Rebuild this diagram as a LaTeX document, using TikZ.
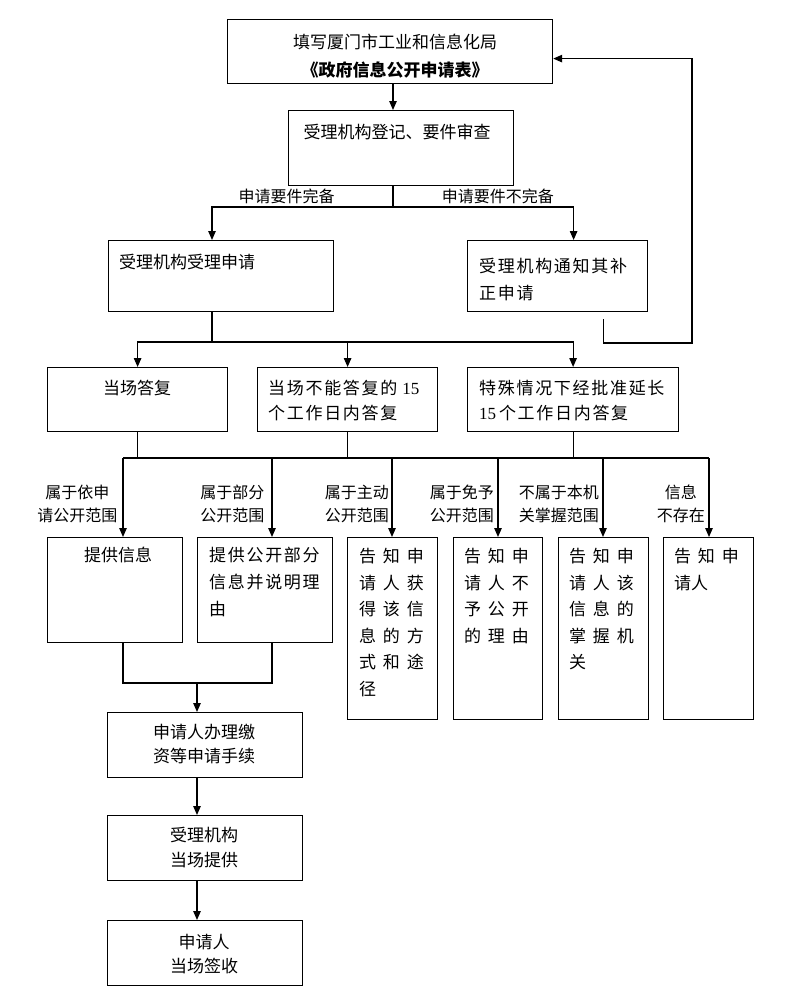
\documentclass[tikz,border=0pt]{standalone}
\usepackage{fontspec}
\setmainfont{Liberation Serif}
\newfontfamily\cjk{Noto Sans CJK SC}
\newfontfamily\cjkwide[LetterSpace=40]{Noto Sans CJK SC}
\newfontfamily\cjkloose[LetterSpace=10]{Noto Sans CJK SC}
\usetikzlibrary{arrows.meta}

\tikzset{
  box/.style 2 args={draw,line width=1.2pt,anchor=north west,inner sep=0pt,
    minimum width=#1pt,minimum height=#2pt},
  txt/.style={inner sep=0pt,align=left,font=\fontsize{17}{#1}\selectfont\cjk},
  txt/.default=27,
  loose/.style={font=\fontsize{17}{#1}\selectfont\cjkloose},
  loose/.default=27,
  wide/.style={font=\fontsize{17}{26.6}\selectfont\cjkwide},
  lab/.style={inner sep=0pt,align=center,font=\fontsize{16}{23}\selectfont\cjk},
  link/.style={line width=1.2pt},
  arr/.style={link,-{Triangle[length=9pt,width=7.5pt]}},
}

\begin{document}
\begin{tikzpicture}[x=1pt,y=-1pt]
  \fill[white] (0,0) rectangle (800,1004);
  \useasboundingbox (0,0) rectangle (800,1004);

  % top of the flow
  \node[box={325}{64}] (b1) at (227,19) {};
  \node[txt=28,align=center,anchor=north] (t1) at (395,34)
    {填写厦门市工业和信息化局\\{\bfseries《政府信息公开申请表》}};
  \node[box={225}{75}] (b2) at (288,110) {};
  \node[txt,anchor=north] (t2) at (397,124) {受理机构登记、要件审查};

  \node[box={225}{71}] (b3a) at (108,240) {};
  \node[txt,anchor=north west] (t3a) at (119,254) {受理机构受理申请};
  \node[box={180}{71}] (b3b) at (467,240) {};
  \node[txt,loose,anchor=north west] (t3b) at (479,258) {受理机构通知其补\\正申请};

  % three ways of answering
  \node[box={180}{64}] (b4a) at (47,367) {};
  \node[txt,anchor=north] (t4a) at (137,380) {当场答复};
  \node[box={180}{64}] (b4b) at (257,367) {};
  \node[txt,loose=25,anchor=north west] (t4b) at (268,380)
    {当场不能答复的\hspace{5pt}{\rmfamily 15}\\个工作日内答复};
  \node[box={211}{64}] (b4c) at (467,367) {};
  \node[txt,loose=25,anchor=north west] (t4c) at (479,380)
    {特殊情况下经批准延长\\{\rmfamily 15}\,个工作日内答复};

  % results
  \node[box={135}{105}] (b6a) at (47,537) {};
  \node[txt,anchor=north] (t6a) at (118,547) {提供信息};
  \node[box={135}{105}] (b6b) at (197,537) {};
  \node[txt,loose,anchor=north west] (t6b) at (209,547) {提供公开部分\\信息并说明理\\由};
  \node[box={90}{182}] (b6c) at (347,537) {};
  \node[txt,wide,anchor=north west] (t6c) at (359,548)
    {告知申\\请人获\\得该信\\息的方\\式和途\\径};
  \node[box={89}{182}] (b6d) at (453,537) {};
  \node[txt,wide,anchor=north west] (t6d) at (464,548)
    {告知申\\请人不\\予公开\\的理由};
  \node[box={90}{182}] (b6e) at (558,537) {};
  \node[txt,wide,anchor=north west] (t6e) at (569,548)
    {告知申\\请人该\\信息的\\掌握机\\关};
  \node[box={90}{182}] (b6f) at (663,537) {};
  \node[txt,wide,anchor=north west] (t6f) at (674,548) {告知申\\{\cjk 请人}};

  \node[box={195}{65}] (b7) at (107,712) {};
  \node[txt=24,align=center,anchor=north] (t7) at (204,724) {申请人办理缴\\资等申请手续};
  \node[box={195}{65}] (b8) at (107,815) {};
  \node[txt=25,align=center,anchor=north] (t8) at (204,827) {受理机构\\当场提供};
  \node[box={195}{65}] (b9) at (107,920) {};
  \node[txt=24,align=center,anchor=north] (t9) at (204,934) {申请人\\当场签收};

  % connectors
  \coordinate (c1) at (393,207);
  \coordinate (c2) at (212,342);
  \coordinate (fb) at (692,343);
  \coordinate (k1) at (123,458);
  \coordinate (k2) at (272,458);
  \coordinate (k3) at (392,458);
  \coordinate (k4) at (498,458);
  \coordinate (k5) at (603,458);
  \coordinate (k6) at (709,458);
  \coordinate (mid) at (197,683);

  \draw[arr] (b1.south -| c1) -- (b2.north -| c1);
  \draw[link] (b2.south -| c1) -- (c1);
  \draw[arr] (c1) -| node[lab,above=3pt,pos=.294] {申请要件完备} (b3a.north -| c2);
  \draw[arr] (c1) -| node[lab,above=3pt,pos=.29] {申请要件不完备} ([shift={(16,0)}]b3b.north);
  \draw[arr] ([shift={(46,7)}]b3b.south) |- (fb) |- ([shift={(0,7)}]b1.east);

  \draw[link] (b3a.south -| c2) -- (c2);
  \draw[arr] (c2) -| (b4a.north);
  \draw[arr] (c2) -| (b4b.north);
  \draw[arr] (c2) -| (b4c.north);

  \draw[link] (k1) -- (k6);
  \draw[link] (b4a.south) -- (b4a.south |- k1);
  \draw[link] (b4b.south) -- (b4b.south |- k1);
  \draw[link] (b4c.south) -- (b4c.south |- k1);

  \draw[arr] (k1) -- node[lab,left=5pt,pos=.58] {属于依申\\请公开范围} (k1 |- b6a.north);
  \draw[arr] (k2) -- node[lab,left=7pt,pos=.58] {属于部分\\公开范围} (k2 |- b6b.north);
  \draw[arr] (k3) -- node[lab,left=2.5pt,pos=.58] {属于主动\\公开范围} (k3 |- b6c.north);
  \draw[arr] (k4) -- node[lab,left=3.5pt,pos=.58] {属于免予\\公开范围} (k4 |- b6d.north);
  \draw[arr] (k5) -- node[lab,left=3.5pt,pos=.58] {不属于本机\\关掌握范围} (k5 |- b6e.north);
  \draw[arr] (k6) -- node[lab,left=3.5pt,pos=.58] {信息\\不存在} (k6 |- b6f.north);

  \draw[link] (k1 |- b6a.south) |- (k2 |- mid) -- (k2 |- b6b.south);
  \draw[arr] (mid) -- (mid |- b7.north);
  \draw[arr] (mid |- b7.south) -- (mid |- b8.north);
  \draw[arr] (mid |- b8.south) -- (mid |- b9.north);
\end{tikzpicture}
\end{document}
